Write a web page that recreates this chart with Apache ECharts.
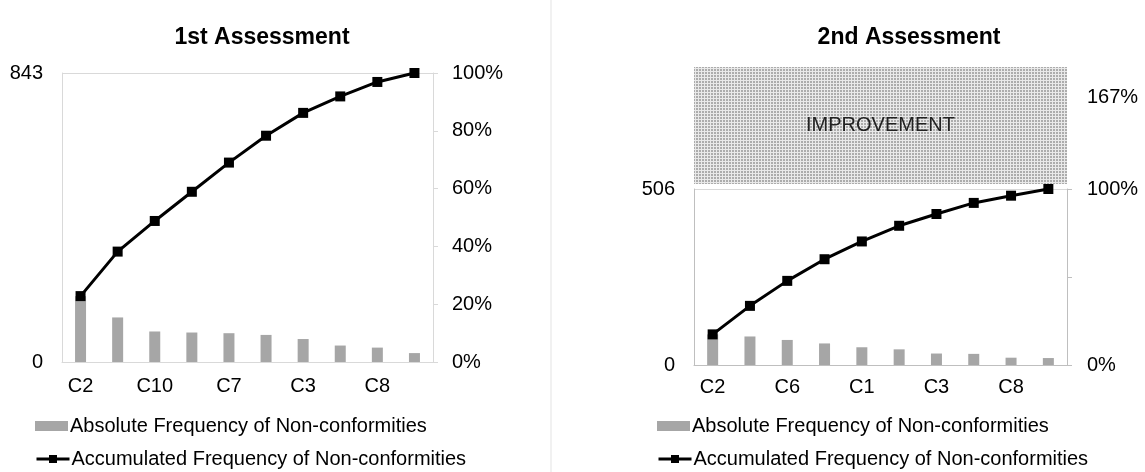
<!DOCTYPE html>
<html>
<head>
<meta charset="utf-8">
<script src="https://cdn.jsdelivr.net/npm/echarts@6/dist/echarts.min.js"></script>
<style>
html,body{margin:0;padding:0;background:#fff;}
#chart{width:1145px;height:472px;}
</style>
</head>
<body>
<div id="chart"></div>
<script>
// ---- data ----
const categories1 = ['C2', 'C6', 'C10', 'C1', 'C7', 'C5', 'C3', 'C4', 'C8', 'C9'];
const absFreq1 = [192, 130, 89, 86, 84, 79, 67, 48, 42, 26];
const cumPct1 = [22.8, 38.2, 48.8, 58.9, 69.0, 78.3, 86.2, 91.9, 96.9, 100];
const total1 = 843;

const categories2 = ['C2', 'C10', 'C6', 'C7', 'C1', 'C5', 'C3', 'C4', 'C8', 'C9'];
const absFreq2 = [88, 82, 72, 62, 51, 45, 33, 32, 21, 20];
const cumPct2 = [17.4, 33.6, 47.8, 60.1, 70.2, 79.1, 85.8, 92.1, 96.2, 100];
const total2 = 506;

const improvementRange = [total2, total1];
const improvementPctLabel = '167%';

const titles = ['1st Assessment', '2nd Assessment'];
const barName = 'Absolute Frequency of Non-conformities';
const lineName = 'Accumulated Frequency of Non-conformities';

// ---- styles ----
const FONT = "'Liberation Sans', Arial, sans-serif";
const BAR_COLOR = '#a6a6a6';
const AXIS_LIGHT = '#d9d9d9';
const AXIS_MID = '#bfbfbf';
const FS = 20;

function makePattern() {
  const c = document.createElement('canvas');
  c.width = 3; c.height = 3;
  const ctx = c.getContext('2d');
  ctx.fillStyle = '#e9e9e9';
  ctx.fillRect(0, 0, 3, 3);
  ctx.fillStyle = '#acacac';
  ctx.fillRect(0, 0, 2, 2);
  return c;
}

const chart = echarts.init(document.getElementById('chart'), null, {renderer: 'canvas'});

const catAxis = (idx, cats, margin, lineColor) => ({
  type: 'category', gridIndex: idx, data: cats,
  axisLine: {show: true, lineStyle: {color: lineColor, width: 1}},
  axisTick: {show: false},
  axisLabel: {interval: 1, fontSize: FS, color: '#000', fontFamily: FONT, margin: margin},
  splitLine: {show: false}
});

const legendItem = (left, top, name, icon) => ({
  left: left, top: top, orient: 'horizontal', padding: 0, itemWidth: 33, itemHeight: 10,
  data: [icon ? {name: name, icon: icon} : {name: name}],
  lineStyle: {width: 3, color: '#000'},
  textStyle: {fontSize: FS, color: '#000', fontFamily: FONT, padding: [0, 0, 0, -3]},
  selectedMode: false
});

const option = {
  backgroundColor: '#fff',
  animation: false,
  textStyle: {fontFamily: FONT},
  title: [
    {text: titles[0], left: 257, top: 21, textAlign: 'center',
     textStyle: {fontSize: 23, fontWeight: 'bold', color: '#000', fontFamily: FONT}},
    {text: titles[1], left: 904, top: 21, textAlign: 'center',
     textStyle: {fontSize: 23, fontWeight: 'bold', color: '#000', fontFamily: FONT}}
  ],
  legend: [
    legendItem(35, 416, barName, 'rect'),
    legendItem(35, 449, lineName),
    legendItem(657, 416, barName, 'rect'),
    legendItem(657, 449, lineName)
  ],
  grid: [
    {left: 62, top: 73, width: 371, height: 289, containLabel: false},
    {left: 694, top: 189, width: 373, height: 176, containLabel: false},
    {left: 694, top: 67, width: 373, height: 117, containLabel: false}
  ],
  xAxis: [
    catAxis(0, categories1, 14, AXIS_LIGHT),
    catAxis(1, categories2, 12, AXIS_MID),
    {type: 'value', gridIndex: 2, min: 0, max: 1, show: false}
  ],
  yAxis: [
    {type: 'value', gridIndex: 0, min: 0, max: total1, interval: total1, position: 'left',
     axisLine: {show: true, lineStyle: {color: AXIS_LIGHT}}, axisTick: {show: false},
     axisLabel: {fontSize: FS, color: '#000', fontFamily: FONT, margin: 19},
     splitLine: {show: true, lineStyle: {color: AXIS_LIGHT}}},
    {type: 'value', gridIndex: 0, min: 0, max: 100, interval: 20, position: 'right',
     axisLine: {show: true, lineStyle: {color: AXIS_LIGHT}},
     axisTick: {show: true, inside: false, length: 5, lineStyle: {color: AXIS_LIGHT}},
     axisLabel: {fontSize: FS, color: '#000', fontFamily: FONT, margin: 19, formatter: '{value}%'},
     splitLine: {show: false}},
    {type: 'value', gridIndex: 1, min: 0, max: total2, interval: total2, position: 'left',
     axisLine: {show: true, lineStyle: {color: AXIS_MID}}, axisTick: {show: false},
     axisLabel: {fontSize: FS, color: '#000', fontFamily: FONT, margin: 19},
     splitLine: {show: true, lineStyle: {color: AXIS_LIGHT}}},
    {type: 'value', gridIndex: 1, min: 0, max: 100, interval: 50, position: 'right',
     axisLine: {show: true, lineStyle: {color: AXIS_MID}},
     axisTick: {show: true, inside: false, length: 5, lineStyle: {color: AXIS_MID}},
     axisLabel: {fontSize: FS, color: '#000', fontFamily: FONT, margin: 20,
       formatter: v => (v === 50 ? '' : v + '%')},
     splitLine: {show: false}},
    {type: 'value', gridIndex: 2, min: improvementRange[0], max: improvementRange[1], show: false}
  ],
  series: [
    {name: barName, type: 'bar', xAxisIndex: 0, yAxisIndex: 0, data: absFreq1,
     barWidth: 11, itemStyle: {color: BAR_COLOR}, z: 2},
    {name: lineName, type: 'line', xAxisIndex: 0, yAxisIndex: 1, data: cumPct1,
     symbol: 'rect', symbolSize: 10, lineStyle: {color: '#000', width: 3},
     itemStyle: {color: '#000'}, z: 3},
    {name: barName, type: 'bar', xAxisIndex: 1, yAxisIndex: 2, data: absFreq2,
     barWidth: 11, itemStyle: {color: BAR_COLOR}, z: 2},
    {name: lineName, type: 'line', xAxisIndex: 1, yAxisIndex: 3, data: cumPct2,
     symbol: 'rect', symbolSize: 10, lineStyle: {color: '#000', width: 3},
     itemStyle: {color: '#000'}, z: 3},
    {name: 'Improvement', type: 'line', xAxisIndex: 2, yAxisIndex: 4, data: [],
     silent: true,
     markArea: {
       silent: true,
       itemStyle: {color: {image: makePattern(), repeat: 'repeat'}},
       label: {show: true, position: 'inside', fontSize: FS, color: '#222', fontFamily: FONT},
       data: [[{name: 'IMPROVEMENT', yAxis: improvementRange[0]}, {yAxis: improvementRange[1]}]]
     }}
  ],
  graphic: [
    {type: 'line', shape: {x1: 551, y1: 0, x2: 551, y2: 472},
     style: {stroke: '#e3e3e3', lineWidth: 1}, silent: true},
    {type: 'text', left: 1087, top: 87,
     style: {text: improvementPctLabel, fontSize: FS, fill: '#000', fontFamily: FONT}, silent: true}
  ]
};
chart.setOption(option);
</script>
</body>
</html>
